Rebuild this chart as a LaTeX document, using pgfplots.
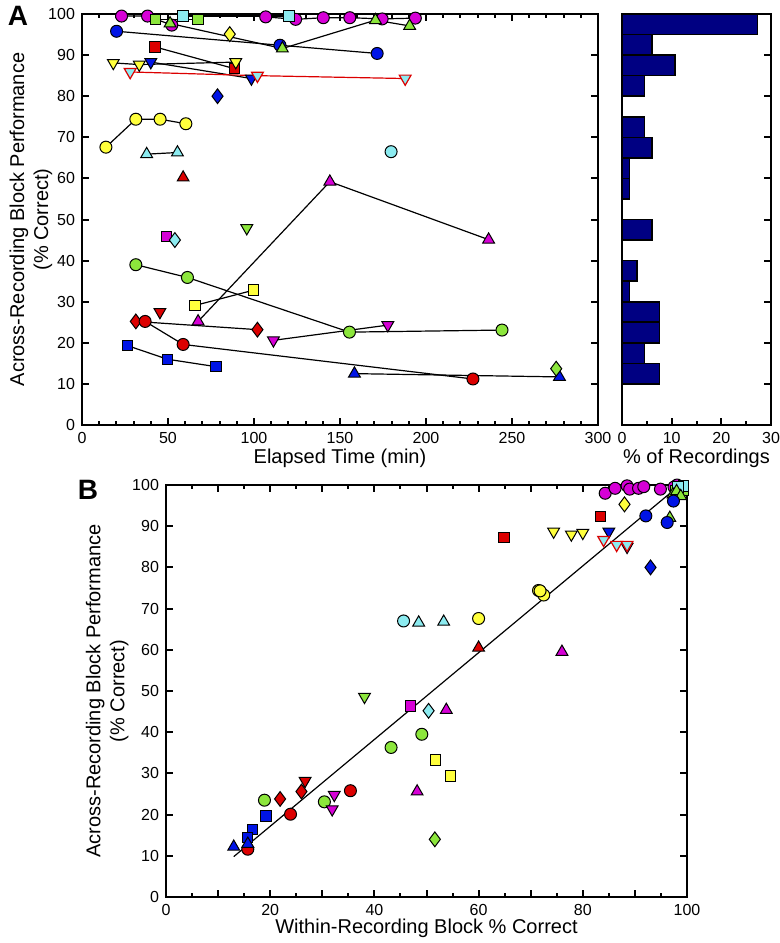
\documentclass[border=0pt]{standalone}
\usepackage{pgfplots}
\pgfplotsset{compat=1.18}
\usepackage{fontspec}
\setmainfont{Liberation Sans}
\definecolor{cMag}{RGB}{214,0,214}
\definecolor{cGrn}{RGB}{140,230,60}
\definecolor{cCyn}{RGB}{140,235,240}
\definecolor{cYel}{RGB}{255,255,60}
\definecolor{cRed}{RGB}{220,0,0}
\definecolor{cBlu}{RGB}{0,20,230}
\definecolor{cNav}{RGB}{0,0,130}
\pgfplotsset{
  circ/.style={mark=*, mark size=3pt, mark options={solid,fill=#1,draw=black,line width=0.5pt}},
  sq/.style={mark=square*, mark size=2.6pt, mark options={solid,fill=#1,draw=black,line width=0.5pt}},
  tri/.style={mark=triangle*, mark size=3.4pt, mark options={solid,fill=#1,draw=black,line width=0.5pt}},
  dtri/.style={mark=triangle*, mark size=3.4pt, mark options={solid,fill=#1,draw=black,line width=0.5pt,rotate=180}},
  rdtri/.style={mark=triangle*, mark size=3.4pt, mark options={solid,fill=#1,draw=cRed,line width=0.6pt,rotate=180}},
  dia/.style={mark=diamond*, mark size=3.7pt, mark options={solid,fill=#1,draw=black,line width=0.5pt}},
  ln/.style={black, line width=0.6pt},
  pt/.style={only marks},
  base/.style={
    scale only axis, clip=false, axis on top,
    axis line style={line width=1.3pt},
    tick align=inside,
    major tick length=3.5pt, minor tick length=2pt,
    every tick/.style={black, line width=1pt},
    /pgf/number format/assume math mode=true,
    tick label style={font=\fontsize{8}{9}\selectfont},
    label style={font=\fontsize{10}{12}\selectfont},
  },
}
\begin{document}
\begin{tikzpicture}
\useasboundingbox (0pt,0pt) rectangle (390pt,-471.5pt);
\node[font=\bfseries\fontsize{14}{16}\selectfont] at (9pt,-8pt) {A};
\node[font=\bfseries\fontsize{14}{16}\selectfont] at (44pt,-245pt) {B};
% ---------------- Panel A
\begin{axis}[base, at={(41pt,-7pt)}, anchor=north west, width=258pt, height=205.5pt,
  xmin=0, xmax=300, ymin=0, ymax=100,
  xtick={0,50,...,300}, minor x tick num=4,
  ytick={0,10,...,100},
  xlabel={Elapsed Time (min)},
  ylabel={Across-Recording Block Performance\\(\% Correct)},
  xlabel style={at={(axis description cs:0.5,-0.08)}, anchor=center},
  ylabel style={at={(axis description cs:-0.099,0.5)}, anchor=center, align=center},
]
\addplot[ln, circ=cMag] coordinates {(23,99.5) (38.1,99.5) (52.2,97.3)};
\addplot[ln, circ=cMag] coordinates {(106.8,99.3) (124.2,98.7) (140.3,99.1) (155.7,99.1) (174.5,98.8) (193.8,99)};
\addplot[ln, sq=cGrn] coordinates {(42.9,98.7) (67.5,98.7)};
\addplot[ln, sq=cCyn] coordinates {(58.8,99.5) (120.3,99.5)};
\addplot[ln, circ=cBlu] coordinates {(20.1,95.8) (115.1,92.4) (171.6,90.4)};
\addplot[ln, tri=cGrn] coordinates {(51.2,97.7) (116.5,91.6) (170.6,98.5) (190.5,97.1)};
\addplot[pt, dia=cYel] coordinates {(85.9,95.1)};
\addplot[ln, sq=cRed] coordinates {(42.4,92) (88.6,86.7)};
\addplot[ln, dtri=cYel] coordinates {(18.2,88.1) (33.3,87.7) (89.4,88.3)};
\addplot[ln, dtri=cBlu] coordinates {(40,88.3) (98.5,84.3)};
\addplot[cRed, line width=0.6pt, rdtri=cCyn] coordinates {(28,85.9) (102,85) (187.9,84.3)};
\addplot[pt, dia=cBlu] coordinates {(78.8,80)};
\addplot[ln, circ=cYel] coordinates {(13.9,67.6) (31.3,74.4) (45.4,74.4) (60.4,73.3)};
\addplot[ln, tri=cCyn] coordinates {(37.6,65.9) (55.5,66.3)};
\addplot[pt, tri=cRed] coordinates {(58.8,60.2)};
\addplot[pt, circ=cCyn] coordinates {(179.7,66.5)};
\addplot[ln, tri=cMag] coordinates {(67.5,25.2) (144.1,59.2) (236.4,45.1)};
\addplot[pt, dtri=cGrn] coordinates {(95.8,47.9)};
\addplot[pt, sq=cMag] coordinates {(49.3,45.9)};
\addplot[pt, dia=cCyn] coordinates {(54,45)};
\addplot[ln, circ=cGrn] coordinates {(31.3,39) (61.3,35.9) (155.5,22.6) (244.2,23.1)};
\addplot[ln, sq=cYel] coordinates {(65.8,29.1) (99.7,32.8)};
\addplot[pt, dtri=cRed] coordinates {(45.3,27.5)};
\addplot[ln, dia=cRed] coordinates {(31.3,25.2) (102,23.2)};
\addplot[ln, circ=cRed] coordinates {(36.7,25.2) (58.8,19.6) (227.3,11.2)};
\addplot[ln, dtri=cMag] coordinates {(111.3,20.6) (177.8,24.3)};
\addplot[ln, sq=cBlu] coordinates {(26.5,19.3) (49.7,16) (77.8,14.2)};
\addplot[ln, tri=cBlu] coordinates {(158.4,12.5) (277.6,11.7)};
\addplot[pt, dia=cGrn] coordinates {(275.7,13.7)};
\end{axis}
% ---------------- Histogram
\begin{axis}[base, at={(311pt,-7pt)}, anchor=north west, width=74.5pt, height=205.5pt,
  xmin=0, xmax=30, ymin=0, ymax=100,
  xtick={0,10,20,30}, minor x tick num=1, xtick pos=left,
  ytick={0,10,...,100}, ytick pos=right, yticklabel=\empty,
  xlabel={\% of Recordings},
  xlabel style={at={(axis description cs:0.5,-0.08)}, anchor=center},
]
\addplot[xbar, bar width=5, fill=cNav, draw=black, line width=0.8pt] coordinates {
(27.27,97.5) (6.06,92.5) (10.61,87.5) (4.55,82.5) (4.55,72.5) (6.06,67.5)
(1.52,62.5) (1.52,57.5) (6.06,47.5) (3.03,37.5) (1.52,32.5) (7.58,27.5)
(7.58,22.5) (4.55,17.5) (7.58,12.5)};
\end{axis}
% ---------------- Panel B
\begin{axis}[base, at={(83pt,-242.5pt)}, anchor=north west, width=260.5pt, height=206pt,
  xmin=0, xmax=100, ymin=0, ymax=100,
  xtick={0,10,...,100}, xticklabels={0,,20,,40,,60,,80,,100}, minor x tick num=1,
  ytick={0,10,...,100},
  xlabel={Within-Recording Block \% Correct},
  ylabel={Across-Recording Block Performance\\(\% Correct)},
  xlabel style={at={(axis description cs:0.5,-0.075)}, anchor=center},
  ylabel style={at={(axis description cs:-0.113,0.5)}, anchor=center, align=center},
]
\addplot[ln, no marks] coordinates {(13,9.8) (97.5,98.8)};
\addplot[pt, circ=cMag] coordinates {(84.3,98) (86.2,99.2) (88.5,99.8) (89,99) (90.7,99.2) (91.7,99.6) (94.9,99) (98.1,100) (97.5,99.5)};
\addplot[pt, sq=cGrn] coordinates {(97.8,98.7) (99.3,98.7)};
\addplot[pt, sq=cCyn] coordinates {(99.3,99.8) (98.3,99.5)};
\addplot[pt, tri=cGrn] coordinates {(96.7,92) (97.3,97.7) (98,98.5) (98.8,97.3)};
\addplot[pt, circ=cBlu] coordinates {(97.4,96.1) (92.1,92.5) (96.2,90.9)};
\addplot[pt, dia=cYel] coordinates {(88,95.3)};
\addplot[pt, sq=cRed] coordinates {(83.4,92.3) (64.9,87.2)};
\addplot[pt, dtri=cYel] coordinates {(74.4,88.7) (77.8,88) (80,88.4)};
\addplot[pt, dtri=cBlu] coordinates {(85,88.7) (88.5,85)};
\addplot[pt, rdtri=cCyn] coordinates {(84,86.7) (86.5,85.5) (88.5,85.5)};
\addplot[pt, dia=cBlu] coordinates {(93,80)};
\addplot[pt, circ=cYel] coordinates {(60,67.6) (71.5,74.4) (72.5,73.3) (71.8,74.3)};
\addplot[pt, tri=cCyn] coordinates {(48.5,66.6) (53.3,66.8)};
\addplot[pt, circ=cCyn] coordinates {(45.6,67)};
\addplot[pt, tri=cRed] coordinates {(60,60.5)};
\addplot[pt, tri=cMag] coordinates {(76,59.5) (53.8,45.4) (48.2,25.6)};
\addplot[pt, dtri=cGrn] coordinates {(38.1,48.6)};
\addplot[pt, sq=cMag] coordinates {(46.9,46.4)};
\addplot[pt, dia=cCyn] coordinates {(50.4,45.2)};
\addplot[pt, circ=cGrn] coordinates {(49.1,39.5) (43.2,36.3) (18.9,23.5) (30.4,23.1)};
\addplot[pt, sq=cYel] coordinates {(51.7,33.3) (54.6,29.4)};
\addplot[pt, dtri=cRed] coordinates {(26.7,28.2)};
\addplot[pt, dia=cRed] coordinates {(21.9,23.8) (26,25.6)};
\addplot[pt, circ=cRed] coordinates {(35.4,25.8) (23.9,20.1) (15.7,11.6)};
\addplot[pt, dtri=cMag] coordinates {(32.3,24.8) (31.9,21.3)};
\addplot[pt, sq=cBlu] coordinates {(19.2,19.7) (16.6,16.4) (15.7,14.5)};
\addplot[pt, tri=cBlu] coordinates {(13,12.2) (15.7,12.9)};
\addplot[pt, dia=cGrn] coordinates {(51.6,14)};
\end{axis}
\end{tikzpicture}
\end{document}
